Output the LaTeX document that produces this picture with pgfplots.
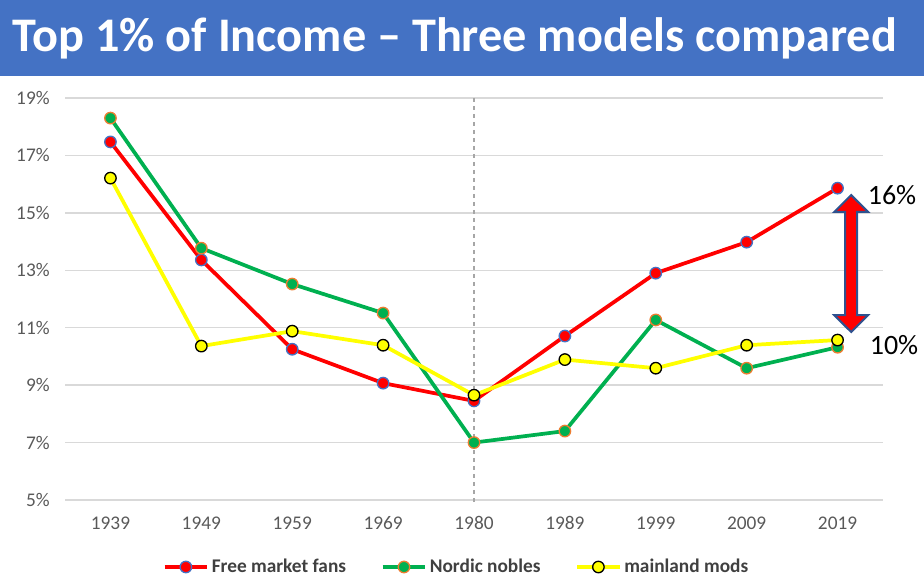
\documentclass[border=0pt]{standalone}
\usepackage{fontspec}
\setmainfont{Carlito}
\usepackage{pgfplots}
\pgfplotsset{compat=1.18}
\definecolor{titleblue}{HTML}{4472C4}
\definecolor{tickgray}{HTML}{595959}
\definecolor{leggray}{HTML}{404040}
\definecolor{gridgray}{HTML}{D9D9D9}
\definecolor{sred}{HTML}{FF0000}
\definecolor{sgreen}{HTML}{00B050}
\definecolor{syellow}{HTML}{FFFF00}
\definecolor{mblue}{HTML}{4472C4}
\definecolor{morange}{HTML}{ED7D31}
\definecolor{arrowblue}{HTML}{2F528F}
\definecolor{dashgray}{HTML}{A6A6A6}
\begin{document}
\begin{tikzpicture}
\path[use as bounding box] (0pt,0pt) rectangle (693pt,438pt);
\fill[titleblue] (0pt,381pt) rectangle (693pt,438pt);
\node[text=white,font=\fontsize{36.2}{40}\selectfont\bfseries] at (341.25pt,409.5pt) {Top 1\% of Income – Three models compared};
\begin{axis}[
  at={(48.75pt,63pt)}, anchor=south west,
  scale only axis, width=613.5pt, height=301.5pt,
  xmin=-0.5, xmax=8.5, ymin=5, ymax=19,
  xtick={0,...,8},
  xticklabels={1939,1949,1959,1969,1980,1989,1999,2009,2019},
  ytick={5,7,9,11,13,15,17,19},
  yticklabels={5\%,7\%,9\%,11\%,13\%,15\%,17\%,19\%},
  axis line style={draw=none},
  major tick length=0pt,
  ymajorgrids,
  grid style={draw=gridgray, line width=1pt},
  tick label style={font=\fontsize{14.5}{16}\selectfont, text=tickgray},
  /pgf/number format/assume math mode=true,
  yticklabel style={xshift=-8pt},
  xticklabel style={yshift=-9pt},
  clip=false,
  legend columns=3,
  legend style={at={(0.479,-0.1667)}, anchor=center, draw=none, fill=none,
    font=\fontsize{14.5}{16}\selectfont\bfseries, text=leggray,
    /tikz/every even column/.append style={column sep=24pt},
    inner sep=0pt},
  legend cell align=left,
  legend image code/.code={\draw[mark repeat=2,mark phase=2] plot coordinates {(0pt,0pt) (16pt,0pt) (32pt,0pt)};},
]
\draw[dashgray, dashed, line width=1pt] (axis cs:4,19) -- (axis cs:4,4.83);
\addplot[sred, line width=2.8pt, mark=*, mark size=4.3pt, mark options={fill=sred, draw=mblue, line width=1pt}]
  coordinates {(0,17.47) (1,13.36) (2,10.25) (3,9.07) (4,8.45) (5,10.71) (6,12.90) (7,13.98) (8,15.86)};
\addlegendentry{Free market fans}
\addplot[sgreen, line width=2.8pt, mark=*, mark size=4.3pt, mark options={fill=sgreen, draw=morange, line width=1pt}]
  coordinates {(0,18.30) (1,13.77) (2,12.52) (3,11.51) (4,7.00) (5,7.40) (6,11.27) (7,9.59) (8,10.32)};
\addlegendentry{Nordic nobles}
\addplot[syellow, line width=2.8pt, mark=*, mark size=4.3pt, mark options={fill=syellow, draw=black, line width=1pt}]
  coordinates {(0,16.21) (1,10.36) (2,10.88) (3,10.39) (4,8.65) (5,9.89) (6,9.59) (7,10.39) (8,10.57)};
\addlegendentry{mainland mods}
\filldraw[fill=sred, draw=arrowblue, line width=1.5pt, line join=miter]
  (axis cs:8.15,15.62) -- (axis cs:8.337,15.03) -- (axis cs:8.216,15.03) -- (axis cs:8.216,11.44)
  -- (axis cs:8.337,11.44) -- (axis cs:8.15,10.85) -- (axis cs:7.963,11.44) -- (axis cs:8.084,11.44)
  -- (axis cs:8.084,15.03) -- (axis cs:7.963,15.03) -- cycle;
\end{axis}
\node[font=\fontsize{21}{24}\selectfont] at (669pt,291.75pt) {16\%};
\node[font=\fontsize{21}{24}\selectfont] at (670.5pt,179.25pt) {10\%};
\end{tikzpicture}
\end{document}
